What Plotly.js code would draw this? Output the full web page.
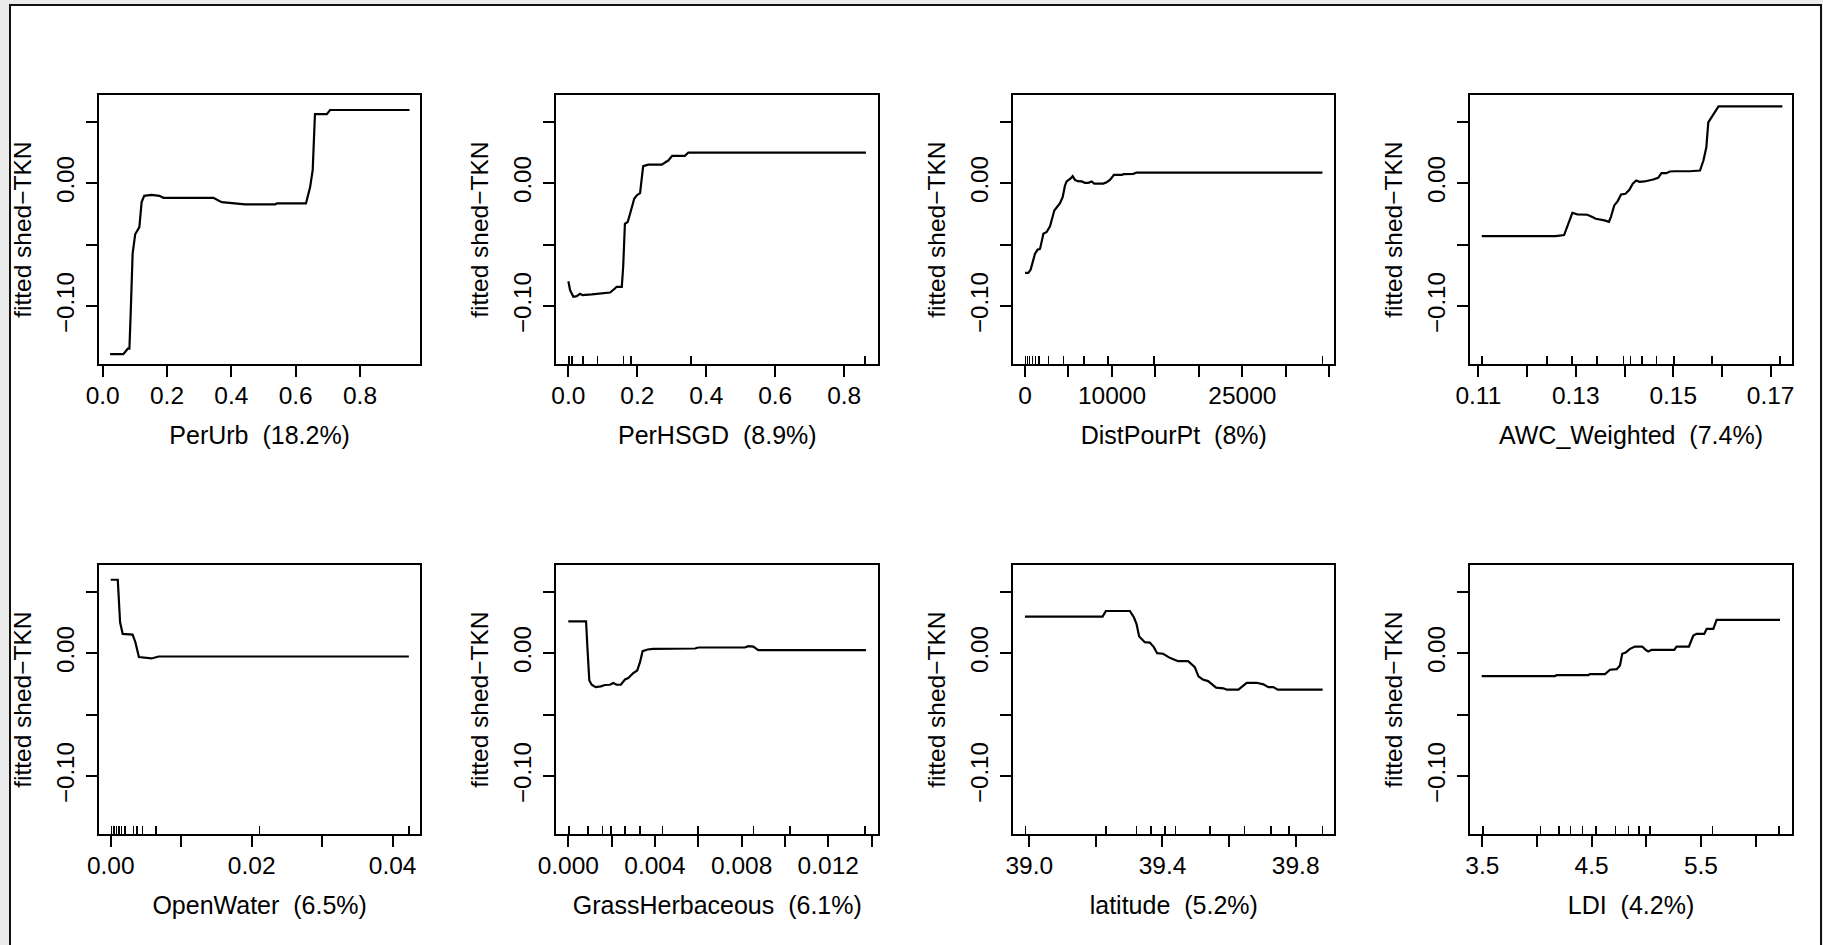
<!DOCTYPE html>
<html>
<head>
<meta charset="utf-8">
<script src="https://cdn.plot.ly/plotly-3.0.1.min.js"></script>
<style>
  html, body { margin: 0; padding: 0; background: #ececec; width: 1823px; height: 945px; overflow: hidden; }
  #frame { position: absolute; left: 9px; top: 4px; width: 1809px; height: 1000px; background: #ffffff; border: 2px solid #111; }
  #chart { position: absolute; left: 0; top: 0; width: 1823px; height: 945px; }
</style>
</head>
<body>
<div id="frame"></div>
<div id="chart"></div>
<script>
// ---------- DATA ----------
const yAxisLabel = "fitted shed\u2212TKN";
const featureNames = ["PerUrb  (18.2%)", "PerHSGD  (8.9%)", "DistPourPt  (8%)", "AWC_Weighted  (7.4%)",
                      "OpenWater  (6.5%)", "GrassHerbaceous  (6.1%)", "latitude  (5.2%)", "LDI  (4.2%)"];

const perUrbX = [0.023, 0.064, 0.078, 0.083, 0.087, 0.093, 0.101, 0.108, 0.114, 0.121, 0.129, 0.152, 0.176, 0.189, 0.344, 0.370, 0.406, 0.443, 0.536, 0.541, 0.632, 0.645, 0.653, 0.660, 0.697, 0.707, 0.954];
const perUrbY = [-0.139, -0.139, -0.1346, -0.1346, -0.106, -0.0573, -0.0416, -0.0378, -0.0357, -0.0154, -0.0103, -0.0095, -0.0103, -0.0119, -0.0119, -0.0154, -0.0162, -0.0173, -0.0173, -0.0165, -0.0165, -0.0032, 0.0108, 0.0562, 0.0562, 0.0595, 0.0595];
const perUrbRug = [];

const perHSGDX = [0.0, 0.005, 0.0145, 0.024, 0.034, 0.041, 0.068, 0.097, 0.121, 0.135, 0.140, 0.155, 0.159, 0.164, 0.172, 0.179, 0.191, 0.198, 0.208, 0.211, 0.217, 0.232, 0.271, 0.285, 0.290, 0.301, 0.338, 0.348, 0.863];
const perHSGDY = [-0.0797, -0.087, -0.0924, -0.0919, -0.090, -0.0911, -0.0905, -0.0897, -0.0889, -0.0857, -0.0843, -0.0843, -0.068, -0.033, -0.0316, -0.0249, -0.0127, -0.010, -0.0081, -0.0005, 0.0138, 0.0151, 0.0151, 0.0176, 0.0184, 0.0222, 0.0222, 0.0249, 0.0249];
const perHSGDRug = [0.0005, 0.003, 0.010, 0.043, 0.085, 0.160, 0.181, 0.356, 0.860];

const distPourPtX = [0, 383, 651, 881, 1150, 1456, 1724, 1992, 2107, 2490, 2873, 3371, 3640, 4023, 4329, 4597, 4789, 5057, 5287, 5478, 5747, 6053, 6513, 6896, 7279, 7662, 7969, 9003, 9386, 9769, 10229, 11110, 11378, 12451, 12834, 34210];
const distPourPtY = [-0.073, -0.073, -0.0703, -0.0649, -0.0573, -0.054, -0.0535, -0.0451, -0.0411, -0.0397, -0.0351, -0.0222, -0.020, -0.0162, -0.0114, -0.0019, 0.0014, 0.0027, 0.0041, 0.0057, 0.0027, 0.0016, 0.0014, 0.0003, 0.0003, 0.0014, -0.0003, -0.0003, 0.0008, 0.0027, 0.0068, 0.0068, 0.0073, 0.0076, 0.0086, 0.0086];
const distPourPtRug = [60, 270, 540, 845, 1230, 1610, 2690, 4420, 6800, 9520, 14860, 34220];

const awcX = [0.1107, 0.1259, 0.1276, 0.1293, 0.1303, 0.1324, 0.1334, 0.1341, 0.1359, 0.1368, 0.1372, 0.1379, 0.1386, 0.1393, 0.1402, 0.1410, 0.1417, 0.1424, 0.1431, 0.1441, 0.1459, 0.1469, 0.1476, 0.1486, 0.1493, 0.1503, 0.1534, 0.1555, 0.1562, 0.1568, 0.1572, 0.1579, 0.1593, 0.1724];
const awcY = [-0.043, -0.043, -0.0422, -0.0241, -0.0254, -0.0257, -0.0276, -0.0289, -0.0303, -0.0314, -0.0276, -0.0181, -0.0146, -0.0092, -0.0086, -0.0054, -0.0005, 0.0022, 0.0011, 0.0014, 0.003, 0.0043, 0.0081, 0.0081, 0.0095, 0.0097, 0.0097, 0.0103, 0.0184, 0.0292, 0.0495, 0.0535, 0.0624, 0.0624];
const awcRug = [0.1107, 0.1241, 0.1292, 0.1344, 0.1398, 0.1412, 0.1436, 0.1466, 0.1502, 0.1580, 0.1719];

const openWaterX = [0.0, 0.001, 0.00133, 0.0017, 0.0031, 0.0035, 0.0040, 0.0048, 0.0058, 0.0068, 0.0423];
const openWaterY = [0.0597, 0.0597, 0.0251, 0.0157, 0.0151, 0.0089, -0.0032, -0.0038, -0.0043, -0.0027, -0.0027];
const openWaterRug = [0.00014, 0.00047, 0.00085, 0.0012, 0.00156, 0.0020, 0.0032, 0.0037, 0.0045, 0.0064, 0.0211, 0.0423];

const grassX = [0.0, 0.00082, 0.00089, 0.00097, 0.00108, 0.00126, 0.0015, 0.00169, 0.00192, 0.00208, 0.00223, 0.00242, 0.00262, 0.00277, 0.0030, 0.00318, 0.00331, 0.00343, 0.00366, 0.00392, 0.00585, 0.0060, 0.00815, 0.00831, 0.00854, 0.00877, 0.01374];
const grassY = [0.0259, 0.0259, 0.0022, -0.0222, -0.0257, -0.0276, -0.027, -0.0259, -0.0257, -0.0243, -0.0257, -0.0257, -0.0214, -0.0203, -0.0162, -0.0141, -0.0073, 0.0016, 0.003, 0.0035, 0.0038, 0.0046, 0.0046, 0.0057, 0.0054, 0.0024, 0.0024];
const grassRug = [0.00003, 0.00092, 0.00157, 0.00197, 0.00262, 0.00331, 0.00434, 0.00598, 0.00854, 0.01023, 0.01369];

const latitudeX = [38.987, 39.220, 39.230, 39.302, 39.314, 39.322, 39.330, 39.347, 39.362, 39.374, 39.384, 39.402, 39.422, 39.447, 39.477, 39.497, 39.508, 39.521, 39.537, 39.561, 39.583, 39.593, 39.628, 39.638, 39.653, 39.683, 39.703, 39.718, 39.733, 39.746, 39.881];
const latitudeY = [0.0297, 0.0297, 0.0343, 0.0343, 0.0292, 0.0238, 0.0135, 0.0089, 0.0086, 0.0049, 0.0, -0.0005, -0.0038, -0.0065, -0.0065, -0.0114, -0.0189, -0.0214, -0.0227, -0.0281, -0.0286, -0.0297, -0.0297, -0.0276, -0.0241, -0.0241, -0.0254, -0.0276, -0.0276, -0.0297, -0.0297];
const latitudeRug = [38.989, 39.230, 39.322, 39.365, 39.407, 39.439, 39.543, 39.646, 39.726, 39.780, 39.880];

const ldiX = [3.494, 4.165, 4.180, 4.470, 4.485, 4.622, 4.668, 4.729, 4.759, 4.780, 4.811, 4.851, 4.896, 4.963, 4.994, 5.018, 5.049, 5.256, 5.277, 5.390, 5.430, 5.460, 5.530, 5.552, 5.613, 5.643, 6.223];
const ldiY = [-0.0186, -0.0186, -0.0178, -0.0178, -0.017, -0.017, -0.0135, -0.013, -0.010, -0.0005, 0.0005, 0.0035, 0.0054, 0.0054, 0.0027, 0.0014, 0.0027, 0.0027, 0.0054, 0.0054, 0.0143, 0.0157, 0.0157, 0.0197, 0.0197, 0.027, 0.027];
const ldiRug = [3.505, 4.034, 4.201, 4.308, 4.415, 4.540, 4.720, 4.835, 4.933, 5.034, 5.607, 6.216];

// tick values / labels
const yTickVals = [-0.10, -0.05, 0.00, 0.05];
const yTickText = ["\u22120.10", "", "0.00", ""];

const xTickVals = [
  [0, 0.2, 0.4, 0.6, 0.8],
  [0, 0.2, 0.4, 0.6, 0.8],
  [0, 5000, 10000, 15000, 20000, 25000, 30000, 35000],
  [0.11, 0.12, 0.13, 0.14, 0.15, 0.16, 0.17],
  [0, 0.01, 0.02, 0.03, 0.04],
  [0, 0.002, 0.004, 0.006, 0.008, 0.010, 0.012, 0.014],
  [39.0, 39.2, 39.4, 39.6, 39.8],
  [3.5, 4.0, 4.5, 5.0, 5.5, 6.0]
];
const xTickText = [
  ["0.0", "0.2", "0.4", "0.6", "0.8"],
  ["0.0", "0.2", "0.4", "0.6", "0.8"],
  ["0", "", "10000", "", "", "25000", "", ""],
  ["0.11", "", "0.13", "", "0.15", "", "0.17"],
  ["0.00", "", "0.02", "", "0.04"],
  ["0.000", "", "0.004", "", "0.008", "", "0.012", ""],
  ["39.0", "", "39.4", "", "39.8"],
  ["3.5", "", "4.5", "", "5.5", ""]
];

const seriesX = [perUrbX, perHSGDX, distPourPtX, awcX, openWaterX, grassX, latitudeX, ldiX];
const seriesY = [perUrbY, perHSGDY, distPourPtY, awcY, openWaterY, grassY, latitudeY, ldiY];
const rugs = [perUrbRug, perHSGDRug, distPourPtRug, awcRug, openWaterRug, grassRug, latitudeRug, ldiRug];

// ---------- LAYOUT ----------
const W = 1823, H = 945;
const xRanges = [[-0.0106, 0.9866], [-0.035, 0.899], [-1348, 35576], [0.10835, 0.17432],
                 [-0.00162, 0.04388], [-0.000554, 0.01431], [38.952, 39.916], [3.39, 6.33]];
const yRange = [-0.1473, 0.0717];
const colPx = [[99.3, 420], [556.3, 878.3], [1013.3, 1334.3], [1470.3, 1791.7]];
const rowPx = [[95, 364.3], [565, 834.3]];

const FONT = "Liberation Sans, Arial, Helvetica, sans-serif";
const data = [];
const layout = {
  width: W, height: H, autosize: false,
  margin: {l: 0, r: 0, t: 0, b: 0},
  paper_bgcolor: "rgba(0,0,0,0)", plot_bgcolor: "#ffffff",
  showlegend: false,
  font: {family: FONT, size: 24, color: "#000"}
};

for (let i = 0; i < 8; i++) {
  const r = Math.floor(i / 4), c = i % 4;
  const n = i + 1;
  const xa = "x" + n, ya = "y" + n;
  data.push({
    type: "scatter", mode: "lines", x: seriesX[i], y: seriesY[i],
    xaxis: xa, yaxis: ya,
    line: {color: "#000", width: 2.2}, hoverinfo: "skip"
  });
  const xaxis = {
    domain: [colPx[c][0] / W, colPx[c][1] / W],
    anchor: ya, range: xRanges[i], fixedrange: true,
    tickmode: "array", tickvals: xTickVals[i], ticktext: xTickText[i],
    ticks: "outside", ticklen: 11, tickwidth: 2, tickcolor: "#000",
    showline: true, mirror: true, linewidth: 2, linecolor: "#000",
    showgrid: false, zeroline: false, automargin: false,
    tickfont: {family: FONT, size: 24.5, color: "#000"},
    ticklabelstandoff: -3,
    title: {text: featureNames[i], font: {family: FONT, size: 25, color: "#000"}, standoff: 19}
  };
  if (rugs[i].length) {
    xaxis.minor = {tickmode: "array", tickvals: rugs[i], ticks: "inside", ticklen: 8, tickwidth: 1.5, tickcolor: "#000", showgrid: false};
  }
  layout["xaxis" + n] = xaxis;
  layout["yaxis" + n] = {
    domain: [1 - rowPx[r][1] / H, 1 - rowPx[r][0] / H],
    anchor: xa, range: yRange, fixedrange: true,
    tickmode: "array", tickvals: yTickVals, ticktext: yTickText,
    ticks: "outside", ticklen: 11, tickwidth: 2, tickcolor: "#000",
    tickangle: -90,
    showline: true, mirror: true, linewidth: 2, linecolor: "#000",
    showgrid: false, zeroline: false, automargin: false,
    tickfont: {family: FONT, size: 24, color: "#000"},
    ticklabelstandoff: 3,
    title: {text: yAxisLabel, font: {family: FONT, size: 24.5, color: "#000"}, standoff: 13}
  };
}

Plotly.newPlot("chart", data, layout, {displayModeBar: false, staticPlot: true});
</script>
</body>
</html>
